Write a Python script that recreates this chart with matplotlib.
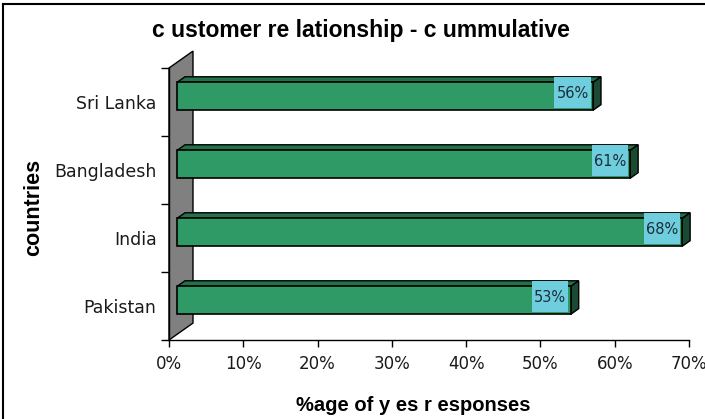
import matplotlib
matplotlib.use("Agg")
import matplotlib.pyplot as plt
from matplotlib.patches import Polygon, Rectangle
from matplotlib.lines import Line2D

# Data
countries = ["Pakistan", "India", "Bangladesh", "Sri Lanka"]
yes_share = [53, 68, 61, 56]          # % of yes responses
x_ticks = [0, 10, 20, 30, 40, 50, 60, 70]
x_tick_labels = [f"{t}%" for t in x_ticks]

title = "c ustomer re lationship - c ummulative"
x_title = "%age of y es r esponses"
y_title = "countries"

# Styling
FRONT = "#2f9a66"
TOP = "#23714b"
SIDE = "#1b4a32"
WALL = "#808080"
LABEL_BG = "#6fcedd"
LABEL_FG = "#1e2d3a"
TEXT = "#1a1a1a"

# Pseudo-3D depth expressed in data units (x in %, y in category units)
DEPTH_X = 3.23
DEPTH_Y = 0.249
BAR_HALF = 0.205
LABEL_W = 5.2

W, H = 705, 419
fig = plt.figure(figsize=(W / 100, H / 100), dpi=100)
fig.patch.set_facecolor("white")

ax = fig.add_axes([169 / W, (H - 340) / H, 520 / W, 272 / H])
ax.set_xlim(0, 70)
ax.set_ylim(-0.5, len(countries) - 0.5)
ax.set_facecolor("none")
for s in ("top", "right"):
    ax.spines[s].set_visible(False)
for s in ("left", "bottom"):
    ax.spines[s].set_color("black")
    ax.spines[s].set_linewidth(1.0)

# Back wall
y0, y1 = -0.5, len(countries) - 0.5
wall = Polygon([(0, y0), (DEPTH_X, y0 + DEPTH_Y), (DEPTH_X, y1 + DEPTH_Y), (0, y1)],
               closed=True, facecolor=WALL, edgecolor="black", linewidth=1.0,
               clip_on=False, zorder=1)
ax.add_patch(wall)

# Bars
fx, fy = DEPTH_X / 3, DEPTH_Y / 3          # front face offset
bx, by = 2 * DEPTH_X / 3, 2 * DEPTH_Y / 3  # back face offset
for i, v in enumerate(yes_share):
    yb = i + fy - BAR_HALF
    yt = i + fy + BAR_HALF
    xl = fx
    xr = v + fx
    top = Polygon([(xl, yt), (xr, yt), (xr + (bx - fx), yt + (by - fy)),
                   (xl + (bx - fx), yt + (by - fy))], closed=True,
                  facecolor=TOP, edgecolor="black", linewidth=1.0,
                  clip_on=False, zorder=3)
    side = Polygon([(xr, yb), (xr, yt), (xr + (bx - fx), yt + (by - fy)),
                    (xr + (bx - fx), yb + (by - fy))], closed=True,
                   facecolor=SIDE, edgecolor="black", linewidth=1.0,
                   clip_on=False, zorder=3)
    front = Rectangle((xl, yb), xr - xl, yt - yb, facecolor=FRONT,
                      edgecolor="black", linewidth=1.2, clip_on=False, zorder=4)
    ax.add_patch(top)
    ax.add_patch(side)
    ax.add_patch(front)

    # value label on a filled box at the end of the bar
    lab_top = yt + (by - fy)
    lab_bot = yb + 0.03
    ax.add_patch(Rectangle((xr - LABEL_W, lab_bot), LABEL_W - 0.3, lab_top - lab_bot,
                           facecolor=LABEL_BG, edgecolor="none", clip_on=False, zorder=5))
    ax.text(xr - LABEL_W / 2 - 0.15, (lab_top + lab_bot) / 2 - 0.02, f"{v}%",
            ha="center", va="center", fontsize=10.5, color=LABEL_FG,
            family="DejaVu Sans", zorder=6)

# Axes ticks
ax.set_xticks(x_ticks)
ax.set_xticklabels(x_tick_labels, fontsize=12, color=TEXT, family="DejaVu Sans")
ax.tick_params(axis="x", direction="out", length=5, width=1, pad=6, color="black")

ax.set_yticks(range(len(countries)))
ax.set_yticklabels(countries, fontsize=12.5, color=TEXT, family="DejaVu Sans")
ax.tick_params(axis="y", which="major", length=0, pad=9)
ax.set_yticks([k - 0.5 for k in range(len(countries) + 1)], minor=True)
ax.tick_params(axis="y", which="minor", direction="out", length=6, width=1, color="black")

# Titles
fig.text(361 / W, 1 - 30 / H, title, ha="center", va="center",
         fontsize=16.5, fontweight="bold", family="Liberation Sans", color="black")
fig.text(413 / W, 1 - 405 / H, x_title, ha="center", va="center",
         fontsize=14.5, fontweight="bold", family="Liberation Sans", color="black")
fig.text(34 / W, 1 - 207 / H, y_title, ha="center", va="center", rotation=90,
         fontsize=15.5, fontweight="bold", family="Liberation Sans", color="black")

# Chart frame (left and top edges)
fig.add_artist(Line2D([2.5 / W, 2.5 / W], [0, 1 - 4 / H], transform=fig.transFigure,
                      color="black", linewidth=1.5))
fig.add_artist(Line2D([2.5 / W, 1], [1 - 4 / H, 1 - 4 / H], transform=fig.transFigure,
                      color="black", linewidth=1.5))

fig.savefig("out.png", dpi=100)
